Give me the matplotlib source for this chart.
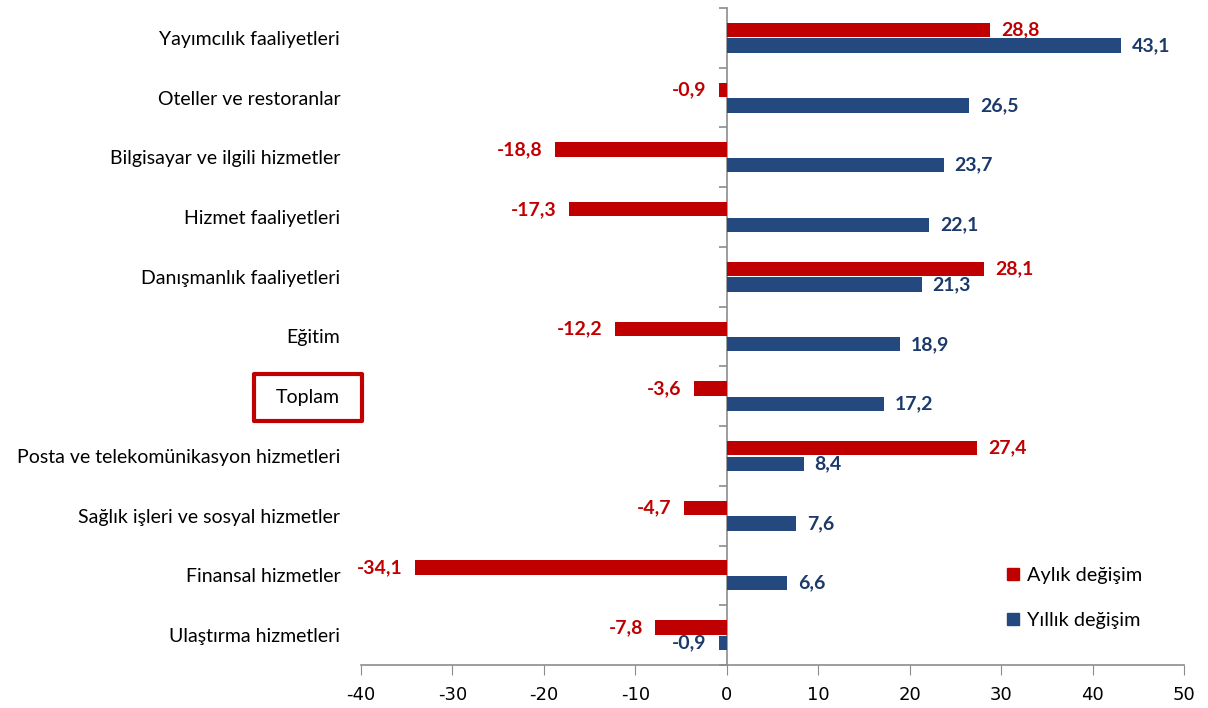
import matplotlib.pyplot as plt
import numpy as np
from matplotlib.lines import Line2D
from matplotlib.patches import Rectangle

plt.rcParams['font.family'] = ['Lato', 'DejaVu Sans']

categories = [
    'Yayımcılık faaliyetleri',
    'Oteller ve restoranlar',
    'Bilgisayar ve ilgili hizmetler',
    'Hizmet faaliyetleri',
    'Danışmanlık faaliyetleri',
    'Eğitim',
    'Toplam',
    'Posta ve telekomünikasyon hizmetleri',
    'Sağlık işleri ve sosyal hizmetler',
    'Finansal hizmetler',
    'Ulaştırma hizmetleri',
]
aylik = [28.8, -0.9, -18.8, -17.3, 28.1, -12.2, -3.6, 27.4, -4.7, -34.1, -7.8]
yillik = [43.1, 26.5, 23.7, 22.1, 21.3, 18.9, 17.2, 8.4, 7.6, 6.6, -0.9]
x_ticks = [-40, -30, -20, -10, 0, 10, 20, 30, 40, 50]

RED = '#C00000'
BLUE = '#23497E'
BLUE_TXT = '#1B3A6B'
GRAY = '#8C8C8C'

fig = plt.figure(figsize=(12.08, 7.08), dpi=100)
ax = fig.add_axes([361 / 1208, 1 - 665 / 708, (1184 - 361) / 1208, (665 - 8) / 708])

y = np.arange(len(categories))
h = 0.24
off = 0.13
ax.barh(y - off, aylik, height=h, color=RED, zorder=2)
ax.barh(y + off, yillik, height=h, color=BLUE, zorder=2)


def fmt(v):
    return f'{v:.1f}'.replace('.', ',')


for yi, v in zip(y - off, aylik):
    ax.annotate(fmt(v), (v, yi), xytext=(8 if v >= 0 else -9, 0), textcoords='offset points',
                ha='left' if v >= 0 else 'right', va='center', color=RED,
                fontsize=14, fontweight='bold')
for yi, v in zip(y + off, yillik):
    ax.annotate(fmt(v), (v, yi), xytext=(8 if v >= 0 else -9, 0), textcoords='offset points',
                ha='left' if v >= 0 else 'right', va='center', color=BLUE_TXT,
                fontsize=14, fontweight='bold')

ax.set_xlim(-40, 50)
ax.set_ylim(len(categories) - 0.5, -0.5)
ax.set_xticks(x_ticks)
ax.set_xticklabels([str(t) for t in x_ticks], family=['Liberation Sans Narrow', 'DejaVu Sans'],
                   fontsize=13)
ax.tick_params(axis='x', direction='out', length=7, color=GRAY, pad=8)

ax.set_yticks(y)
ax.set_yticklabels(categories, fontsize=14)
ax.tick_params(axis='y', length=0, pad=15)

for s in ['top', 'right', 'left']:
    ax.spines[s].set_visible(False)
ax.spines['bottom'].set_color(GRAY)
ax.spines['bottom'].set_linewidth(1.2)

# zero axis with category boundary ticks
zero = ax.secondary_yaxis(40 / 90)
zero.set_yticks(np.arange(len(categories) + 1) - 0.5)
zero.set_yticklabels([])
zero.tick_params(length=6, color=GRAY, width=1.2)
zero.spines['left'].set_color(GRAY)
zero.spines['left'].set_linewidth(1.2)

handles = [
    Line2D([], [], marker='s', linestyle='none', color=RED, markersize=8),
    Line2D([], [], marker='s', linestyle='none', color=BLUE, markersize=8),
]
fig.legend(handles, ['Aylık değişim', 'Yıllık değişim'], loc='center left',
           bbox_to_anchor=(985 / 1208, 1 - 598 / 708), frameon=False, fontsize=14.3,
           handletextpad=0.2, handlelength=1.0, labelspacing=1.4)

# red frame around "Toplam"
fig.canvas.draw()
lab = ax.get_yticklabels()[categories.index('Toplam')]
bb = lab.get_window_extent()
cx = (bb.x0 + bb.x1) / 2
cy = (bb.y0 + bb.y1) / 2
w, hh = 108, 47
fig.patches.append(Rectangle((cx - w / 2, cy - hh / 2), w, hh, transform=None,
                             fill=False, edgecolor=RED, linewidth=3, joinstyle='round'))

fig.savefig('out.png', dpi=100)
